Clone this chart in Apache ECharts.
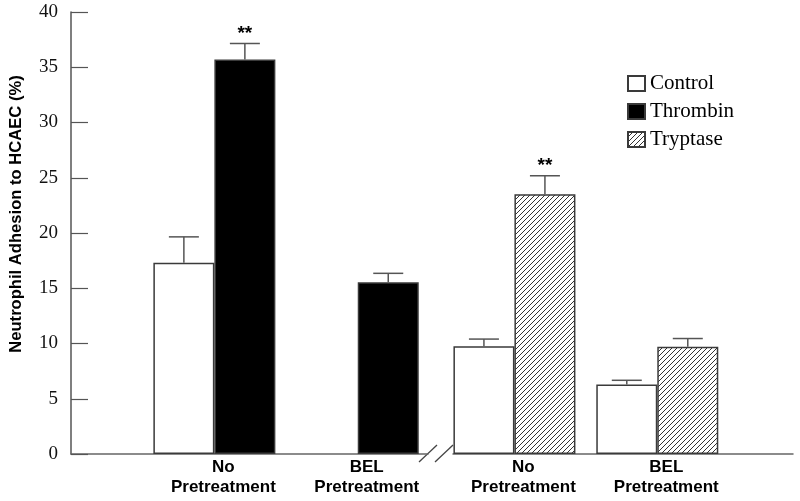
<!DOCTYPE html>
<html>
<head>
<meta charset="utf-8">
<script src="https://cdn.jsdelivr.net/npm/echarts@6/dist/echarts.min.js"></script>
<style>html,body{margin:0;padding:0;background:#fff}#c{width:800px;height:501px}</style>
</head>
<body>
<div id="c"></div>
<script>
// ---- data ----
const groupLabels = ['No\nPretreatment', 'BEL\nPretreatment', 'No\nPretreatment', 'BEL\nPretreatment'];
const groupPos = [1, 2, 3, 4];
const controlMean = [17.3, null, 9.75, 6.3];
const controlErr = [2.35, null, 0.65, 0.37];
const thrombinMean = [35.7, 15.55];
const thrombinErr = [1.45, 0.8];
const thrombinSig = ['**', ''];
const tryptaseMean = [23.5, 9.7];
const tryptaseErr = [1.68, 0.75];
const tryptaseSig = ['**', ''];
const yTicks = [0, 5, 10, 15, 20, 25, 30, 35, 40];
const yTitle = 'Neutrophil Adhesion to HCAEC (%)';

// ---- styles ----
const BAR_W = 61;
const EDGE = '#3a3a3a';
function hatch() {
  const s = 5, c = document.createElement('canvas');
  c.width = s; c.height = s;
  const g = c.getContext('2d');
  g.fillStyle = '#fff'; g.fillRect(0, 0, s, s);
  g.strokeStyle = '#333'; g.lineWidth = 1;
  g.beginPath();
  g.moveTo(0, s); g.lineTo(s, 0);
  g.moveTo(-1, 1); g.lineTo(1, -1);
  g.moveTo(s - 1, s + 1); g.lineTo(s + 1, s - 1);
  g.stroke();
  return c;
}
const hatchFill = { image: hatch(), repeat: 'repeat' };

function pts(pos, vals) { return vals.map((v, i) => [pos[i], v == null ? null : v]); }
function errData(pos, vals, errs, slot, sig) {
  const out = [];
  vals.forEach((v, i) => { if (v != null) out.push({ value: [pos[i], v, errs[i], slot], sig: sig ? sig[i] : '' }); });
  return out;
}

const leftPos = groupPos.slice(0, 2), rightPos = groupPos.slice(2, 4);
const errLeft = errData(leftPos, controlMean.slice(0, 2), controlErr.slice(0, 2), 0)
  .concat(errData(leftPos, thrombinMean, thrombinErr, 1, thrombinSig));
const errRight = errData(rightPos, controlMean.slice(2, 4), controlErr.slice(2, 4), 0)
  .concat(errData(rightPos, tryptaseMean, tryptaseErr, 1, tryptaseSig));

function renderErr(data) {
  return function (params, api) {
    const x = api.value(0), y = api.value(1), e = api.value(2), k = api.value(3);
    const p0 = api.coord([x, y]), p1 = api.coord([x, y + e]);
    const cx = p0[0] + (k - 0.5) * BAR_W;
    const st = { stroke: '#555', lineWidth: 1.5 };
    const children = [
      { type: 'line', shape: { x1: cx, y1: p0[1], x2: cx, y2: p1[1] }, style: st },
      { type: 'line', shape: { x1: cx - 15, y1: p1[1], x2: cx + 15, y2: p1[1] }, style: st }
    ];
    const s = data[params.dataIndex].sig;
    if (s) children.push({ type: 'text', x: cx, y: p1[1] - 10, style: { text: s, fill: '#000', font: 'bold 19px "Liberation Sans"', align: 'center', verticalAlign: 'middle' } });
    return { type: 'group', children };
  };
}

const xLabel = {
  fontFamily: 'Liberation Sans', fontWeight: 'bold', fontSize: 17, color: '#000', lineHeight: 20, margin: 3,
  padding: [0, 0, 0, 18],
  formatter: v => { const i = groupPos.indexOf(Math.round(v)); return i >= 0 ? groupLabels[i] : ''; }
};
const xLine = { lineStyle: { color: '#666', width: 1.5 } };

const chart = echarts.init(document.getElementById('c'), null, { renderer: 'canvas' });
chart.setOption({
  animation: false,
  backgroundColor: '#fff',
  grid: [
    { left: 71, top: 12, width: 357, height: 442 },
    { left: 453, top: 12, width: 340, height: 442 }
  ],
  xAxis: [
    { type: 'value', gridIndex: 0, min: 0, max: 2.49, axisLine: xLine, axisTick: { show: false }, splitLine: { show: false },
      axisLabel: Object.assign({ customValues: leftPos }, xLabel) },
    { type: 'value', gridIndex: 1, min: 2.57, max: 4.95, axisLine: xLine, axisTick: { show: false }, splitLine: { show: false },
      axisLabel: Object.assign({ customValues: rightPos }, xLabel) }
  ],
  yAxis: [
    { type: 'value', gridIndex: 0, min: yTicks[0], max: yTicks[yTicks.length - 1], interval: yTicks[1] - yTicks[0],
      axisLine: { show: true, lineStyle: { color: '#555', width: 1.5 } },
      axisTick: { show: true, inside: true, length: 17, lineStyle: { color: '#555', width: 1.2 } },
      axisLabel: { fontFamily: 'Liberation Serif', fontSize: 19, color: '#111', margin: 13 },
      splitLine: { show: false } },
    { type: 'value', gridIndex: 1, min: yTicks[0], max: yTicks[yTicks.length - 1], interval: yTicks[1] - yTicks[0],
      show: false, splitLine: { show: false } }
  ],
  legend: {
    orient: 'vertical', left: 622, top: 68, itemWidth: 17, itemHeight: 15, itemGap: 7, itemTextGap: 12,
    icon: 'rect',
    textStyle: { fontFamily: 'Liberation Serif', fontSize: 21, color: '#000', lineHeight: 21 },
    data: ['Control', 'Thrombin', 'Tryptase']
  },
  series: [
    { name: 'Control', type: 'bar', xAxisIndex: 0, yAxisIndex: 0, barWidth: BAR_W, barGap: '0%',
      data: pts(leftPos, controlMean.slice(0, 2)), itemStyle: { color: '#fff', borderColor: EDGE, borderWidth: 1.5 } },
    { name: 'Thrombin', type: 'bar', xAxisIndex: 0, yAxisIndex: 0, barWidth: BAR_W, barGap: '0%',
      data: pts(leftPos, thrombinMean), itemStyle: { color: '#000', borderColor: EDGE, borderWidth: 1.5 } },
    { name: 'Control', type: 'bar', xAxisIndex: 1, yAxisIndex: 1, barWidth: BAR_W, barGap: '0%',
      data: pts(rightPos, controlMean.slice(2, 4)), itemStyle: { color: '#fff', borderColor: EDGE, borderWidth: 1.5 } },
    { name: 'Tryptase', type: 'bar', xAxisIndex: 1, yAxisIndex: 1, barWidth: BAR_W, barGap: '0%',
      data: pts(rightPos, tryptaseMean), itemStyle: { color: hatchFill, borderColor: EDGE, borderWidth: 1.5 } },
    { type: 'custom', xAxisIndex: 0, yAxisIndex: 0, data: errLeft, renderItem: renderErr(errLeft), z: 5, clip: false },
    { type: 'custom', xAxisIndex: 1, yAxisIndex: 1, data: errRight, renderItem: renderErr(errRight), z: 5, clip: false }
  ],
  graphic: [
    { type: 'text', x: 16, y: 214, rotation: Math.PI / 2,
      style: { text: yTitle, font: 'bold 16.6px "Liberation Sans"', fill: '#000', align: 'center', verticalAlign: 'middle' } },
    { type: 'line', shape: { x1: 419, y1: 462, x2: 437, y2: 445 }, style: { stroke: '#444', lineWidth: 1.3 } },
    { type: 'line', shape: { x1: 435, y1: 462, x2: 453, y2: 445 }, style: { stroke: '#444', lineWidth: 1.3 } }
  ]
});
</script>
</body>
</html>
